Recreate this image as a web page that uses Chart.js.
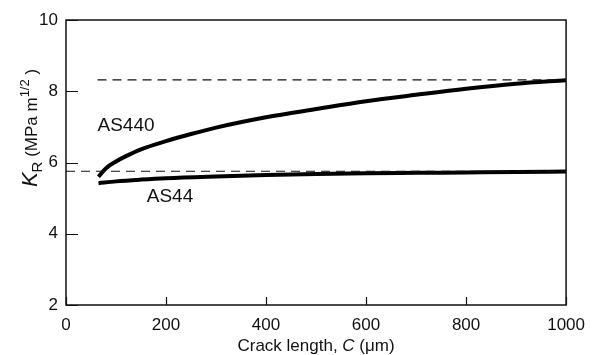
<!DOCTYPE html>
<html>
<head>
<meta charset="utf-8">
<script src="https://cdn.jsdelivr.net/npm/chart.js@4.4.0/dist/chart.umd.min.js"></script>
<style>
  body { margin: 0; background: #fff; }
  #wrap { width: 595px; height: 355px; }
</style>
</head>
<body>
<div id="wrap"><canvas id="myChart" width="595" height="355"></canvas></div>
<script>
// crack length (um) and K_R (MPa m^1/2)
var crackAS440 = [65, 80, 100, 120, 150, 200, 250, 300, 400, 500, 600, 700, 800, 900, 1000];
var krAS440    = [5.6, 5.84, 6.03, 6.18, 6.37, 6.6, 6.8, 6.98, 7.27, 7.5, 7.72, 7.9, 8.07, 8.21, 8.31];
var crackAS44  = [65, 100, 150, 200, 300, 400, 500, 600, 700, 800, 900, 1000];
var krAS44     = [5.42, 5.47, 5.52, 5.56, 5.61, 5.65, 5.68, 5.7, 5.71, 5.72, 5.73, 5.75];

// dashed plateau lines
var plateauAS440X = [63, 1000];
var plateauAS440 = 8.32;
var plateauAS44X = [0, 1000];
var plateauAS44 = 5.755;

var xTicks = [0, 200, 400, 600, 800, 1000];
var yTicks = [2, 4, 6, 8, 10];

// curve labels: [text, crack length, K_R]
var curveLabels = [
  ['AS440', 120, 7.03],
  ['AS44', 208, 5.04]
];

function pts(xs, ys) {
  var out = [];
  for (let i = 0; i < xs.length; i++) {
    out.push({x: xs[i], y: Array.isArray(ys) ? ys[i] : ys});
  }
  return out;
}

var FONT = '"Liberation Sans", Arial, sans-serif';

var decorPlugin = {
  id: 'decor',
  afterDraw: function(chart) {
    let c = chart.ctx;
    let a = chart.chartArea;
    let xs = chart.scales.x, ys = chart.scales.y;
    c.save();
    c.strokeStyle = '#111';
    c.lineWidth = 1.5;
    c.strokeRect(a.left, a.top, a.right - a.left, a.bottom - a.top);
    // inward tick marks
    c.beginPath();
    xTicks.forEach(function(v) {
      let px = Math.round(xs.getPixelForValue(v)) + 0.5;
      c.moveTo(px, a.bottom);
      c.lineTo(px, a.bottom - 8);
    });
    yTicks.forEach(function(v) {
      let py = Math.round(ys.getPixelForValue(v)) + 0.5;
      c.moveTo(a.left, py);
      c.lineTo(a.left + 12, py);
    });
    c.lineWidth = 1.2;
    c.stroke();

    c.fillStyle = '#111';
    // curve labels
    c.font = '19px ' + FONT;
    c.textAlign = 'center';
    c.textBaseline = 'middle';
    curveLabels.forEach(function(l) {
      c.fillText(l[0], xs.getPixelForValue(l[1]), ys.getPixelForValue(l[2]));
    });

    // x axis title
    c.textBaseline = 'alphabetic';
    c.textAlign = 'left';
    let parts = [['Crack length, ', '17px ' + FONT], ['C', 'italic 17px ' + FONT], [' (\u03bcm)', '17px ' + FONT]];
    let w = 0;
    parts.forEach(function(p) { c.font = p[1]; w += c.measureText(p[0]).width; });
    let x0 = (a.left + a.right) / 2 - w / 2;
    parts.forEach(function(p) {
      c.font = p[1];
      c.fillText(p[0], x0, 351);
      x0 += c.measureText(p[0]).width;
    });

    // y axis title, rotated
    c.translate(30, 128);
    c.rotate(-Math.PI / 2);
    let yp = [
      ['K', 'italic 22px ' + FONT, 0],
      ['R', '15px ' + FONT, 5],
      [' (MPa m', '17px ' + FONT, 0],
      ['1/2', '13px ' + FONT, -8],
      [' )', '17px ' + FONT, 0]
    ];
    w = 0;
    yp.forEach(function(p) { c.font = p[1]; w += c.measureText(p[0]).width; });
    x0 = -w / 2;
    yp.forEach(function(p) {
      c.font = p[1];
      c.fillText(p[0], x0, 7 + p[2]);
      x0 += c.measureText(p[0]).width;
    });
    c.restore();
  }
};

var ctx = document.getElementById('myChart');
var chart = new Chart(ctx, {
  type: 'scatter',
  data: {
    datasets: [
      {
        label: 'AS440 plateau',
        data: pts(plateauAS440X, plateauAS440),
        showLine: true,
        borderColor: '#111',
        borderWidth: 1.2,
        borderDash: [9, 6],
        pointRadius: 0
      },
      {
        label: 'AS44 plateau',
        data: pts(plateauAS44X, plateauAS44),
        showLine: true,
        borderColor: '#111',
        borderWidth: 1.2,
        borderDash: [9, 6],
        pointRadius: 0
      },
      {
        label: 'AS440',
        data: pts(crackAS440, krAS440),
        showLine: true,
        borderColor: '#000',
        borderWidth: 4,
        cubicInterpolationMode: 'monotone',
        pointRadius: 0
      },
      {
        label: 'AS44',
        data: pts(crackAS44, krAS44),
        showLine: true,
        borderColor: '#000',
        borderWidth: 4,
        cubicInterpolationMode: 'monotone',
        pointRadius: 0
      }
    ]
  },
  options: {
    responsive: false,
    animation: false,
    layout: { padding: { top: 20, right: 20, left: 0, bottom: 0 } },
    plugins: {
      legend: { display: false },
      tooltip: { enabled: false }
    },
    scales: {
      x: {
        type: 'linear',
        min: 0,
        max: 1000,
        afterFit: function(s) { s.height = 50; },
        afterBuildTicks: function(s) { s.ticks = xTicks.map(function(v) { return {value: v}; }); },
        grid: { display: false, drawTicks: false },
        border: { display: false },
        ticks: { color: '#111', padding: 10, font: { family: FONT, size: 17 },
          callback: function(v) { return String(v); } }
      },
      y: {
        type: 'linear',
        min: 2,
        max: 10,
        afterFit: function(s) { s.width = 66; },
        afterBuildTicks: function(s) { s.ticks = yTicks.map(function(v) { return {value: v}; }); },
        grid: { display: false, drawTicks: false },
        border: { display: false },
        ticks: { color: '#111', padding: 8, font: { family: FONT, size: 17 },
          callback: function(v) { return String(v); } }
      }
    }
  },
  plugins: [decorPlugin]
});
</script>
</body>
</html>
